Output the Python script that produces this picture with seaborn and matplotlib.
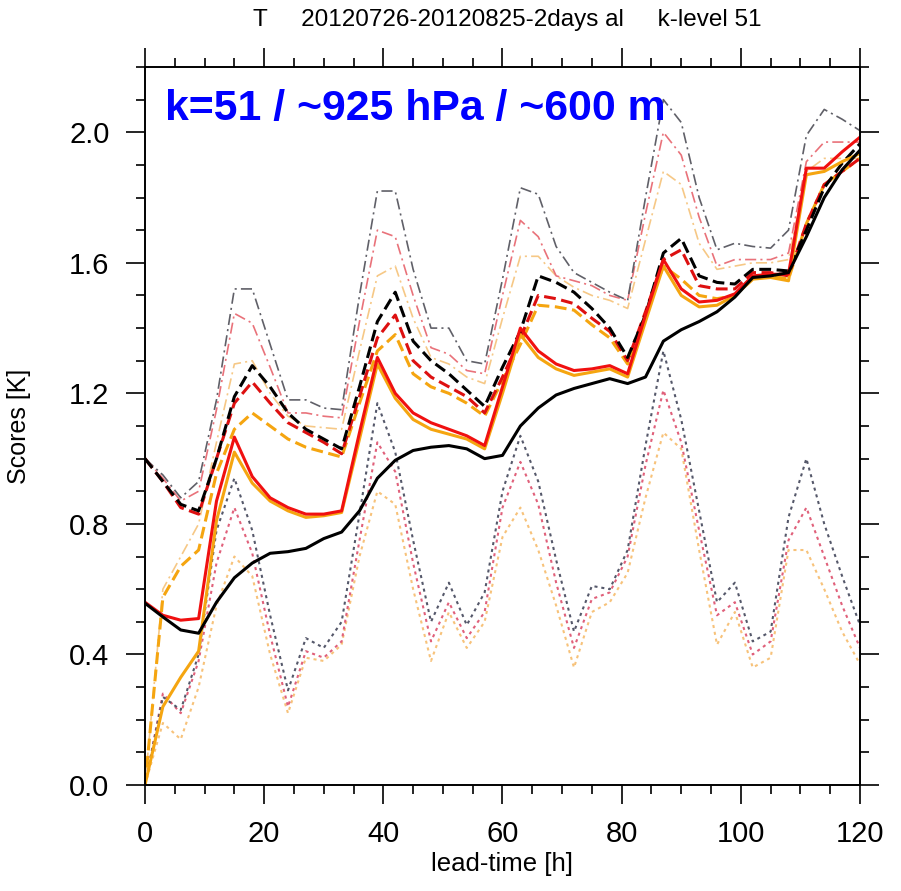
import numpy as np
import pandas as pd
import matplotlib
matplotlib.use("Agg")
import matplotlib.pyplot as plt
import seaborn as sns
from matplotlib.ticker import MultipleLocator

# ---------------- data ----------------
lead_time = list(range(0, 121, 3))

black_solid = [0.557, 0.515, 0.475, 0.465, 0.56, 0.635, 0.68, 0.71, 0.715, 0.725, 0.755, 0.775,
               0.84, 0.94, 0.995, 1.025, 1.035, 1.04, 1.03, 1.00, 1.01, 1.10, 1.155, 1.195,
               1.215, 1.23, 1.245, 1.23, 1.25, 1.36, 1.395, 1.42, 1.45, 1.495, 1.555, 1.56,
               1.57, 1.68, 1.80, 1.885, 1.945]
red_solid = [0.56, 0.52, 0.505, 0.51, 0.87, 1.066, 0.945, 0.88, 0.85, 0.83, 0.83, 0.84,
             1.08, 1.31, 1.20, 1.14, 1.11, 1.09, 1.07, 1.04, 1.22, 1.40, 1.33, 1.29,
             1.27, 1.275, 1.285, 1.26, 1.44, 1.61, 1.52, 1.48, 1.485, 1.505, 1.56, 1.565,
             1.565, 1.89, 1.89, 1.94, 1.985]
orange_solid = [0.0, 0.24, 0.33, 0.41, 0.81, 1.02, 0.925, 0.87, 0.84, 0.82, 0.825, 0.835,
                1.06, 1.29, 1.185, 1.12, 1.09, 1.075, 1.06, 1.03, 1.20, 1.38, 1.31, 1.275,
                1.255, 1.265, 1.275, 1.25, 1.42, 1.59, 1.50, 1.465, 1.47, 1.50, 1.55, 1.555,
                1.545, 1.87, 1.88, 1.91, 1.935]
black_dashed = [1.0, 0.93, 0.86, 0.84, 1.00, 1.19, 1.285, 1.22, 1.14, 1.09, 1.06, 1.03,
                1.22, 1.42, 1.51, 1.36, 1.30, 1.26, 1.21, 1.16, 1.28, 1.39, 1.56, 1.54,
                1.51, 1.46, 1.40, 1.31, 1.44, 1.63, 1.675, 1.56, 1.54, 1.535, 1.58, 1.58,
                1.575, 1.70, 1.83, 1.905, 1.965]
red_dashed = [1.0, 0.93, 0.85, 0.83, 1.0, 1.17, 1.235, 1.17, 1.11, 1.08, 1.05, 1.015,
              1.19, 1.37, 1.44, 1.30, 1.25, 1.22, 1.19, 1.14, 1.25, 1.37, 1.50, 1.49,
              1.475, 1.43, 1.39, 1.30, 1.45, 1.61, 1.64, 1.53, 1.52, 1.52, 1.57, 1.57,
              1.56, 1.72, 1.84, 1.88, 1.92]
orange_dashed = [0.0, 0.575, 0.67, 0.72, 0.955, 1.09, 1.14, 1.10, 1.06, 1.035, 1.02, 1.005,
                 1.17, 1.33, 1.38, 1.26, 1.22, 1.20, 1.17, 1.13, 1.24, 1.35, 1.47, 1.465,
                 1.455, 1.41, 1.37, 1.29, 1.44, 1.59, 1.55, 1.50, 1.49, 1.50, 1.55, 1.56,
                 1.55, 1.72, 1.84, 1.88, 1.92]
black_dashdot = [1.0, 0.95, 0.88, 0.93, 1.18, 1.52, 1.52, 1.35, 1.18, 1.18, 1.155, 1.15,
                 1.50, 1.82, 1.82, 1.58, 1.40, 1.40, 1.30, 1.29, 1.55, 1.83, 1.81, 1.65,
                 1.57, 1.54, 1.51, 1.485, 1.80, 2.10, 2.03, 1.80, 1.64, 1.66, 1.65, 1.645,
                 1.70, 1.99, 2.07, 2.04, 2.005]
red_dashdot = [1.0, 0.94, 0.87, 0.90, 1.15, 1.445, 1.415, 1.28, 1.14, 1.14, 1.13, 1.125,
               1.42, 1.70, 1.68, 1.50, 1.34, 1.32, 1.27, 1.26, 1.50, 1.73, 1.68, 1.56,
               1.545, 1.53, 1.50, 1.485, 1.75, 2.00, 1.93, 1.74, 1.59, 1.61, 1.61, 1.61,
               1.63, 1.91, 1.97, 1.97, 1.97]
orange_dashdot = [0.0, 0.60, 0.70, 0.80, 1.05, 1.29, 1.30, 1.20, 1.13, 1.10, 1.095, 1.09,
                  1.33, 1.56, 1.59, 1.43, 1.31, 1.29, 1.25, 1.23, 1.43, 1.62, 1.62, 1.56,
                  1.525, 1.50, 1.485, 1.46, 1.67, 1.88, 1.84, 1.66, 1.58, 1.59, 1.60, 1.60,
                  1.61, 1.88, 1.92, 1.92, 1.92]
black_dotted = [0.0, 0.27, 0.23, 0.40, 0.78, 0.94, 0.78, 0.52, 0.29, 0.45, 0.42, 0.50,
                0.83, 1.17, 1.02, 0.75, 0.50, 0.62, 0.49, 0.59, 0.90, 1.07, 0.93, 0.69,
                0.47, 0.61, 0.60, 0.72, 1.04, 1.33, 1.12, 0.84, 0.56, 0.62, 0.44, 0.47,
                0.82, 1.00, 0.80, 0.64, 0.49]
red_dotted = [0.0, 0.28, 0.22, 0.38, 0.68, 0.85, 0.71, 0.46, 0.24, 0.41, 0.39, 0.44,
              0.75, 1.05, 0.96, 0.68, 0.44, 0.56, 0.45, 0.53, 0.85, 0.99, 0.86, 0.62,
              0.42, 0.57, 0.59, 0.70, 0.98, 1.21, 1.05, 0.78, 0.52, 0.56, 0.40, 0.44,
              0.75, 0.85, 0.70, 0.55, 0.42]
orange_dotted = [0.0, 0.19, 0.14, 0.30, 0.55, 0.70, 0.64, 0.40, 0.22, 0.39, 0.38, 0.43,
                 0.70, 0.90, 0.86, 0.60, 0.38, 0.53, 0.42, 0.50, 0.76, 0.85, 0.72, 0.55,
                 0.36, 0.53, 0.56, 0.65, 0.88, 1.08, 1.03, 0.72, 0.43, 0.53, 0.36, 0.39,
                 0.72, 0.72, 0.60, 0.47, 0.37]

x_ticks = [0, 20, 40, 60, 80, 100, 120]
y_ticks = [0.0, 0.4, 0.8, 1.2, 1.6, 2.0]
title_text = "T     20120726-20120825-2days al     k-level 51"
annot_text = "k=51 / ~925 hPa / ~600 m"

# ---------------- styling ----------------
sns.set_theme(style="ticks")
plt.rcParams["font.family"] = ["Liberation Sans", "DejaVu Sans"]
plt.rcParams["lines.scale_dashes"] = False
for k in ["text.color", "axes.labelcolor", "xtick.color", "ytick.color", "axes.edgecolor"]:
    plt.rcParams[k] = "black"

fig = plt.figure(figsize=(9.01, 8.91), dpi=100)
ax = fig.add_axes([145 / 901, (891 - 785) / 891, 715 / 901, 718 / 891])

DOT = (0, (2.2, 2.8))
DASHDOT = (0, (8.0, 3.0, 1.5, 3.0))
DASH = (0, (8.5, 4.0))

series = [
    (orange_dotted, "#f7c27a", DOT, 1.5),
    (red_dotted, "#e0607a", DOT, 1.5),
    (black_dotted, "#55586a", DOT, 1.5),
    (orange_dashdot, "#f6c886", DASHDOT, 1.2),
    (red_dashdot, "#e9727a", DASHDOT, 1.2),
    (black_dashdot, "#606068", DASHDOT, 1.2),
    (orange_dashed, "#f5a510", DASH, 2.2),
    (red_dashed, "#dd1010", DASH, 2.2),
    (black_dashed, "#000000", DASH, 2.2),
    (orange_solid, "#f5a510", "-", 2.2),
    (red_solid, "#f01010", "-", 2.2),
    (black_solid, "#000000", "-", 2.2),
]

for vals, col, ls, lw in series:
    sns.lineplot(x=lead_time, y=vals, ax=ax, color=col, linestyle=ls,
                 linewidth=lw, errorbar=None)

ax.set_xlim(0, 120)
ax.set_ylim(0, 2.2)
ax.set_xticks(x_ticks)
ax.set_yticks(y_ticks)
ax.set_yticklabels([f"{v:.1f}" for v in y_ticks])
ax.xaxis.set_minor_locator(MultipleLocator(5))
ax.yaxis.set_minor_locator(MultipleLocator(0.1))
ax.tick_params(which="both", direction="out", top=True, right=True,
               color="black", labelcolor="black", width=1.2)
ax.tick_params(which="major", length=13.5, labelsize=21, pad=12)
ax.tick_params(which="minor", length=6.5)
for s in ax.spines.values():
    s.set_color("black")
    s.set_linewidth(1.4)

lab_font = ["Liberation Sans Narrow", "Liberation Sans", "DejaVu Sans"]
ax.set_xlabel("lead-time [h]", fontsize=18.5, family=lab_font, color="black")
ax.set_ylabel("Scores [K]", fontsize=18, family=lab_font, color="black")
ax.xaxis.set_label_coords(0.5, -0.093)
ax.yaxis.set_label_coords(-0.16, 0.5)

fig.text(507 / 901, (891 - 20) / 891, title_text, ha="center", va="center",
         fontsize=17.5, family=lab_font, color="black")

ax.text(0.028, 0.926, annot_text, transform=ax.transAxes, ha="left",
        va="baseline", fontsize=30.8, fontweight="bold", color="#0000ff",
        family=["Liberation Sans", "DejaVu Sans"])

fig.savefig("out.png", dpi=100, facecolor="white")
